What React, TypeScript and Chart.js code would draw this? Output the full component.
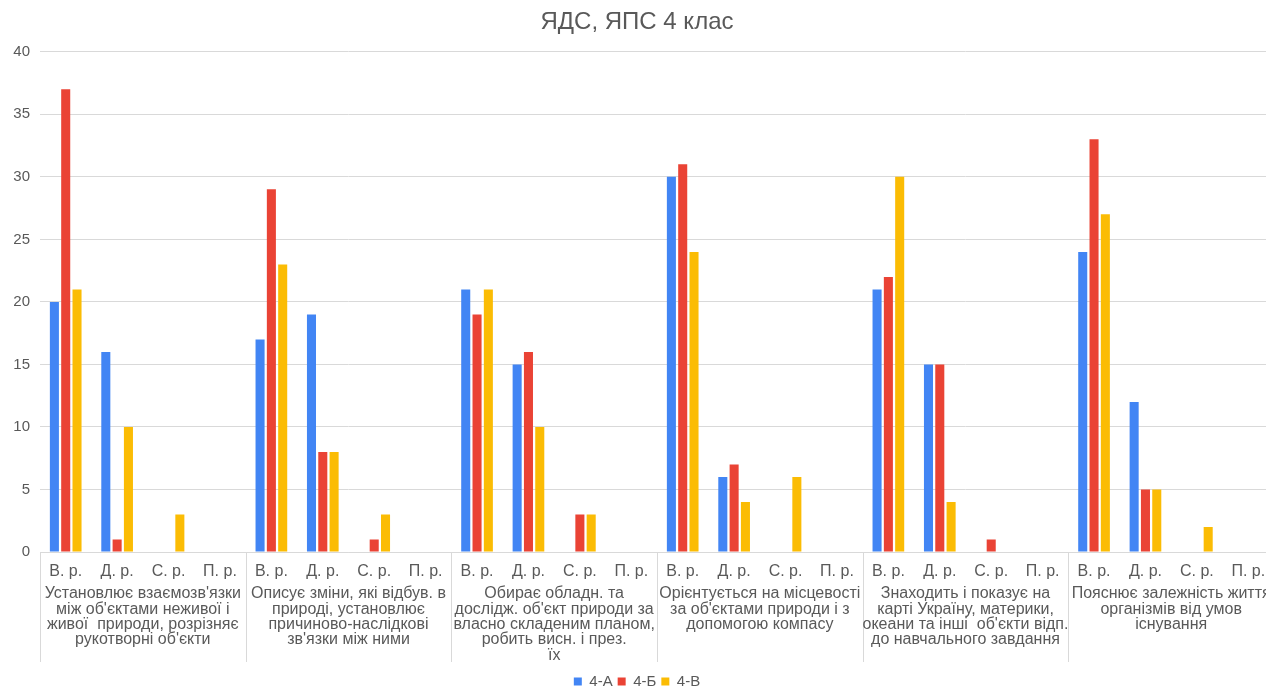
import React, { useEffect, useRef } from "react";
import { Chart, registerables } from "chart.js";

Chart.register(...registerables);

const chartTitle = "ЯДС, ЯПС 4 клас";
const subLabels = ["В. р.", "Д. р.", "С. р.", "П. р."];
const groupLabels: string[][] = [
  ["Установлює взаємозв'язки", "між об'єктами неживої і", "живої  природи, розрізняє", "рукотворні об'єкти"],
  ["Описує зміни, які відбув. в", "природі, установлює", "причиново-наслідкові", "зв'язки між ними"],
  ["Обирає обладн. та", "дослідж. об'єкт природи за", "власно складеним планом,", "робить висн. і през.", "їх"],
  ["Орієнтується на місцевості", "за об'єктами природи і з", "допомогою компасу"],
  ["Знаходить і показує на", "карті Україну, материки,", "океани та інші  об'єкти відп.", "до навчального завдання"],
  ["Пояснює залежність життя", "організмів від умов", "існування"],
];
const seriesNames = ["4-А", "4-Б", "4-В"];
const values4A = [20, 16, 0, 0, 17, 19, 0, 0, 21, 15, 0, 0, 30, 6, 0, 0, 21, 15, 0, 0, 24, 12, 0, 0];
const values4B = [37, 1, 0, 0, 29, 8, 1, 0, 19, 16, 3, 0, 31, 7, 0, 0, 22, 15, 1, 0, 33, 5, 0, 0];
const values4V = [21, 10, 3, 0, 23, 8, 3, 0, 21, 10, 3, 0, 24, 4, 6, 0, 30, 4, 0, 0, 27, 5, 2, 0];
const seriesColors = ["#4285F4", "#EA4335", "#FBBC04"];
const yMin = 0;
const yMax = 40;
const yStep = 5;

const categories = groupLabels.flatMap(() => subLabels);
const FONT = '"Liberation Sans", Arial, sans-serif';
const TEXT = "#595959";
const GRID = "#d9d9d9";

const groupPlugin = {
  id: "groupLabels",
  afterDraw(chart: any) {
    const x = chart.scales.x;
    const ctx = chart.ctx;
    const n = categories.length;
    const w = (x.right - x.left) / n;
    const top = chart.chartArea.bottom;
    const per = subLabels.length;
    ctx.save();
    ctx.strokeStyle = GRID;
    ctx.lineWidth = 1;
    for (let g = 0; g <= groupLabels.length; g++) {
      const px = Math.round(x.left + g * per * w) + 0.5;
      ctx.beginPath();
      ctx.moveTo(px, top);
      ctx.lineTo(px, top + 110);
      ctx.stroke();
    }
    ctx.fillStyle = TEXT;
    ctx.font = `16px ${FONT}`;
    ctx.textAlign = "center";
    ctx.textBaseline = "middle";
    groupLabels.forEach((lines, g) => {
      const cx = x.left + (g * per + per / 2) * w;
      lines.forEach((line, i) => {
        ctx.fillText(line, cx, top + 42 + i * 15.3);
      });
    });
    ctx.restore();
  },
};

export default function App() {
  const ref = useRef<HTMLCanvasElement | null>(null);
  useEffect(() => {
    if (!ref.current) return;
    const seriesValues = [values4A, values4B, values4V];
    const chart = new Chart(ref.current, {
      type: "bar",
      data: {
        labels: categories,
        datasets: seriesNames.map((name, i) => ({
          label: name,
          data: seriesValues[i],
          backgroundColor: seriesColors[i],
          borderWidth: 0,
          categoryPercentage: 0.66,
          barPercentage: 0.8,
        })),
      },
      options: {
        animation: false,
        responsive: true,
        maintainAspectRatio: false,
        layout: { padding: { left: 0, right: 10, top: 0, bottom: -11 } },
        plugins: {
          title: {
            display: true,
            text: chartTitle,
            color: TEXT,
            font: { family: FONT, size: 24, weight: "normal" },
            padding: { top: 8, bottom: 15 },
          },
          legend: {
            position: "bottom",
            labels: {
              color: TEXT,
              font: { family: FONT, size: 15 },
              boxWidth: 8,
              boxHeight: 8,
              padding: 5,
            },
          },
          tooltip: { enabled: false },
        },
        scales: {
          x: {
            grid: { display: false, drawTicks: false },
            border: { display: true, color: GRID },
            ticks: {
              color: TEXT,
              font: { family: FONT, size: 16 },
              padding: 10,
              autoSkip: false,
              maxRotation: 0,
            },
            afterFit: (scale: any) => {
              scale.height = 117;
            },
          },
          y: {
            min: yMin,
            max: yMax,
            ticks: {
              stepSize: yStep,
              color: TEXT,
              font: { family: FONT, size: 15 },
              padding: 10,
            },
            grid: { color: GRID, drawTicks: false },
            border: { display: false },
            afterFit: (scale: any) => {
              scale.width = 40;
            },
          },
        },
      },
      plugins: [groupPlugin],
    });
    return () => chart.destroy();
  }, []);
  return (
    <div style={{ position: "fixed", left: 0, top: 0, width: 1284, height: 688, background: "#fff" }}>
      <canvas ref={ref} />
    </div>
  );
}
